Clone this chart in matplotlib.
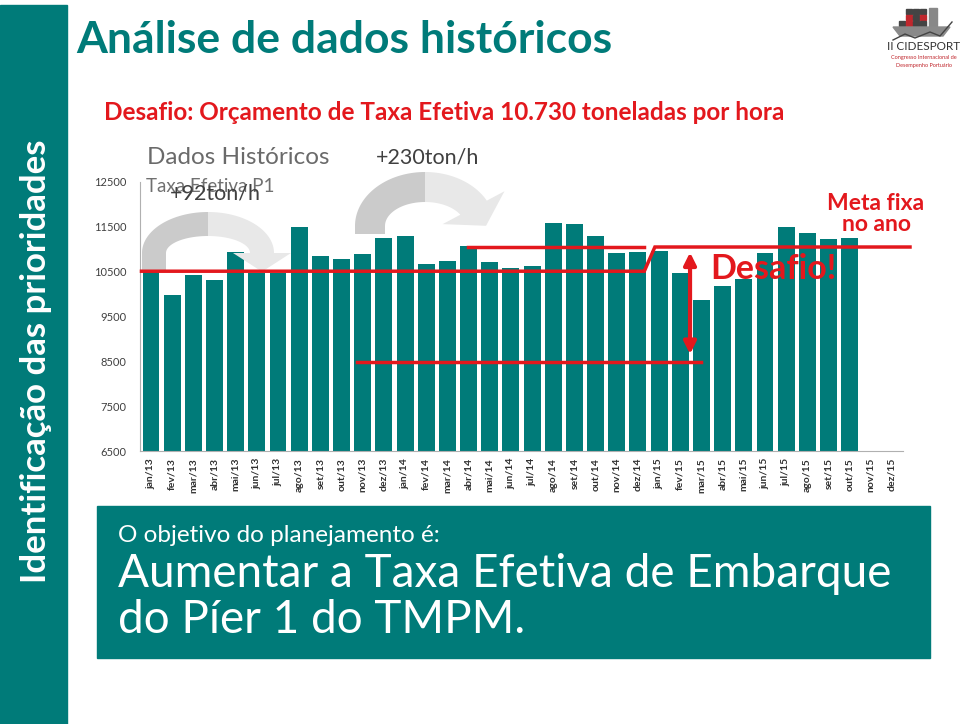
import matplotlib
matplotlib.use('Agg')
import matplotlib.pyplot as plt
import numpy as np
from matplotlib.patches import Polygon, Rectangle
from matplotlib.transforms import Affine2D

plt.rcParams['font.family'] = ['Lato', 'DejaVu Sans']

# dados do gráfico
meses = ['jan/13', 'fev/13', 'mar/13', 'abr/13', 'mai/13', 'jun/13', 'jul/13', 'ago/13',
         'set/13', 'out/13', 'nov/13', 'dez/13', 'jan/14', 'fev/14', 'mar/14', 'abr/14',
         'mai/14', 'jun/14', 'jul/14', 'ago/14', 'set/14', 'out/14', 'nov/14', 'dez/14',
         'jan/15', 'fev/15', 'mar/15', 'abr/15', 'mai/15', 'jun/15', 'jul/15', 'ago/15',
         'set/15', 'out/15', 'nov/15', 'dez/15']
taxa = [10490, 9980, 10430, 10310, 10940, 10470, 10470, 11500, 10850, 10780, 10890, 11250,
        11300, 10670, 10740, 11070, 10720, 10580, 10630, 11590, 11560, 11300, 10920, 10940,
        10960, 10470, 9870, 10180, 10340, 10920, 11500, 11360, 11230, 11250]
yticks = [6500, 7500, 8500, 9500, 10500, 11500, 12500]

nivel_p1 = 10510      # patamar histórico
nivel_meta = 11050    # meta fixa no ano
nivel_base = 8480     # base do desafio
p1_ini, p1_fim = -0.45, 23.3
meta_ini, meta_fim = 14.97, 35.85
base_ini, base_fim = 9.73, 26.0
seta_x = 25.46

TEAL = '#007B79'
RED = '#E3181D'

fig = plt.figure(figsize=(9.6, 7.24), dpi=100)
px = Affine2D().scale(1 / 960, -1 / 724).translate(0, 1) + fig.transFigure

# faixa lateral e caixa inferior
fig.add_artist(Rectangle((0, 5), 67, 719, color=TEAL, transform=px, zorder=0))
fig.add_artist(Rectangle((97, 506), 833, 152, color=TEAL, transform=px, zorder=0))

fig.text(36 / 960, 1 - 361 / 724, 'Identificação das prioridades', rotation=90, color='white',
         fontsize=25, fontweight='bold', ha='center', va='center')
fig.text(76 / 960, 1 - 40 / 724, 'Análise de dados históricos', color=TEAL, fontsize=32,
         fontweight='bold', ha='left', va='center')
fig.text(104 / 960, 1 - 112 / 724, 'Desafio: Orçamento de Taxa Efetiva 10.730 toneladas por hora',
         color=RED, fontsize=17.5, fontweight='bold', ha='left', va='center')
fig.text(118 / 960, 1 - 535 / 724, 'O objetivo do planejamento é:', color='white', fontsize=17.5,
         ha='left', va='center')
fig.text(118 / 960, 1 - 574 / 724, 'Aumentar a Taxa Efetiva de Embarque', color='white',
         fontsize=33, ha='left', va='center')
fig.text(118 / 960, 1 - 620 / 724, 'do Píer 1 do TMPM.', color='white', fontsize=33,
         ha='left', va='center')

# gráfico de barras
ax = fig.add_axes([140.4 / 960, 1 - 451 / 724, 762.2 / 960, 269 / 724])
ax.patch.set_alpha(0)
x = np.arange(len(taxa))
ax.bar(x, np.array(taxa) - 6500, bottom=6500, width=0.8, color=TEAL, zorder=2)
ax.set_xlim(-0.5, len(meses) - 0.5)
ax.set_ylim(6500, 12500)
ax.set_xticks(np.arange(len(meses)))
ax.set_xticklabels(meses, rotation=90, fontsize=7.5, fontweight='bold', color='#303030')
ax.set_yticks(yticks)
ax.set_yticklabels([str(v) for v in yticks], fontsize=8, color='#404040')
ax.tick_params(length=0)
ax.tick_params(axis='y', pad=10)
ax.tick_params(axis='x', pad=5)
for s in ['top', 'right']:
    ax.spines[s].set_visible(False)
for s in ['left', 'bottom']:
    ax.spines[s].set_color('#b0b0b0')


def seta_curva(x0, x1, ybase, ytopo, esp, perna, th_fim, cab):
    cx = (x0 + x1) / 2
    rx = (x1 - x0) / 2
    ry = ybase - ytopo

    def banda(a, b):
        th = np.linspace(a, b, 40)
        out = np.c_[cx + rx * np.cos(th), ybase - ry * np.sin(th)]
        inn = np.c_[cx + (rx - esp) * np.cos(th), ybase - (ry - esp) * np.sin(th)]
        return out, inn

    o1, i1 = banda(np.pi, np.pi / 2)
    pts1 = np.vstack([[[x0, ybase + perna]], o1, i1[::-1], [[x0 + esp, ybase + perna]]])
    ax.add_patch(Polygon(pts1, closed=True, color='#cbcbcb', transform=px, clip_on=False,
                         zorder=3, lw=0))
    t = np.radians(th_fim)
    o2, i2 = banda(np.pi / 2, t)
    po, pi_ = o2[-1], i2[-1]
    m = (po + pi_) / 2
    n = (po - pi_) / np.linalg.norm(po - pi_)
    d = np.array([rx * np.sin(t), ry * np.cos(t)])
    d = d / np.linalg.norm(d)
    w = esp / 2 + cab
    head = np.array([m + n * w, m + d * cab * 1.1, m - n * w])
    pts2 = np.vstack([o2, head, i2[::-1]])
    ax.add_patch(Polygon(pts2, closed=True, color='#e8e8e8', transform=px, clip_on=False,
                         zorder=3, lw=0))


seta_curva(142, 274, 253, 212, 24, 17, 0, 17)
seta_curva(355, 495, 226, 172, 30, 8, 28, 20)

# linhas de referência
ax.plot([p1_ini, p1_fim, p1_fim + 0.5, meta_fim], [nivel_p1, nivel_p1, nivel_meta, nivel_meta],
        color=RED, lw=2.5, zorder=4, clip_on=False, solid_joinstyle='miter')
ax.plot([meta_ini, p1_fim], [nivel_meta, nivel_meta], color=RED, lw=2.5, zorder=4, clip_on=False)
ax.plot([base_ini, base_fim], [nivel_base, nivel_base], color=RED, lw=2.5, zorder=4, clip_on=False)
ax.annotate('', xy=(seta_x, nivel_meta - 120), xytext=(seta_x, nivel_base + 180),
            arrowprops=dict(arrowstyle='<|-|>', color=RED, lw=3, mutation_scale=18,
                            shrinkA=0, shrinkB=0), zorder=5)

# textos do gráfico
fig.text(147 / 960, 1 - 157 / 724, 'Dados Históricos', color='#6a6a6a', fontsize=17.5,
         ha='left', va='center')
fig.text(376 / 960, 1 - 157 / 724, '+230ton/h', color='#404040', fontsize=15.5,
         ha='left', va='center')
fig.text(146 / 960, 1 - 186 / 724, 'Taxa Efetiva P1', color='#707070', fontsize=13.5,
         ha='left', va='center')
fig.text(170 / 960, 1 - 193 / 724, '+92ton/h', color='#404040', fontsize=15.5,
         ha='left', va='center')
fig.text(710 / 960, 1 - 269 / 724, 'Desafio!', color=RED, fontsize=24.5, fontweight='bold',
         ha='left', va='center', zorder=6)
fig.text(876 / 960, 1 - 214 / 724, 'Meta fixa\nno ano', color=RED, fontsize=16.5,
         fontweight='bold', ha='center', va='center', linespacing=1.05)

# logotipo
for i, (lx, ly, c) in enumerate([(906, 9, '#444'), (913, 9, '#444'), (920, 9, '#444'),
                                 (906, 15, '#c0272d'), (913, 15, '#444'), (920, 15, '#c0272d'),
                                 (899, 21, '#444'), (906, 21, '#c0272d'), (913, 21, '#444'),
                                 (920, 21, '#444')]):
    fig.add_artist(Rectangle((lx, ly), 6, 5, color=c, transform=px))
fig.add_artist(Rectangle((929, 8), 8, 19, color='#888', transform=px))
fig.add_artist(Polygon([[893, 27], [950, 27], [943, 36], [900, 36]], color='#8a8a8a',
                       transform=px))
fig.add_artist(plt.Line2D([893, 905, 915, 930, 940, 952], [40, 34, 38, 32, 36, 22],
                          color='#444', lw=1, transform=px))
fig.text(924 / 960, 1 - 46 / 724, 'II CIDESPORT', color='#333', fontsize=8.5,
         ha='center', va='center')
fig.text(924 / 960, 1 - 57 / 724, 'Congresso Internacional de', color='#c0272d', fontsize=4,
         ha='center', va='center')
fig.text(924 / 960, 1 - 65 / 724, 'Desempenho Portuário', color='#c0272d', fontsize=4,
         ha='center', va='center')

fig.savefig('out.png', dpi=100)
